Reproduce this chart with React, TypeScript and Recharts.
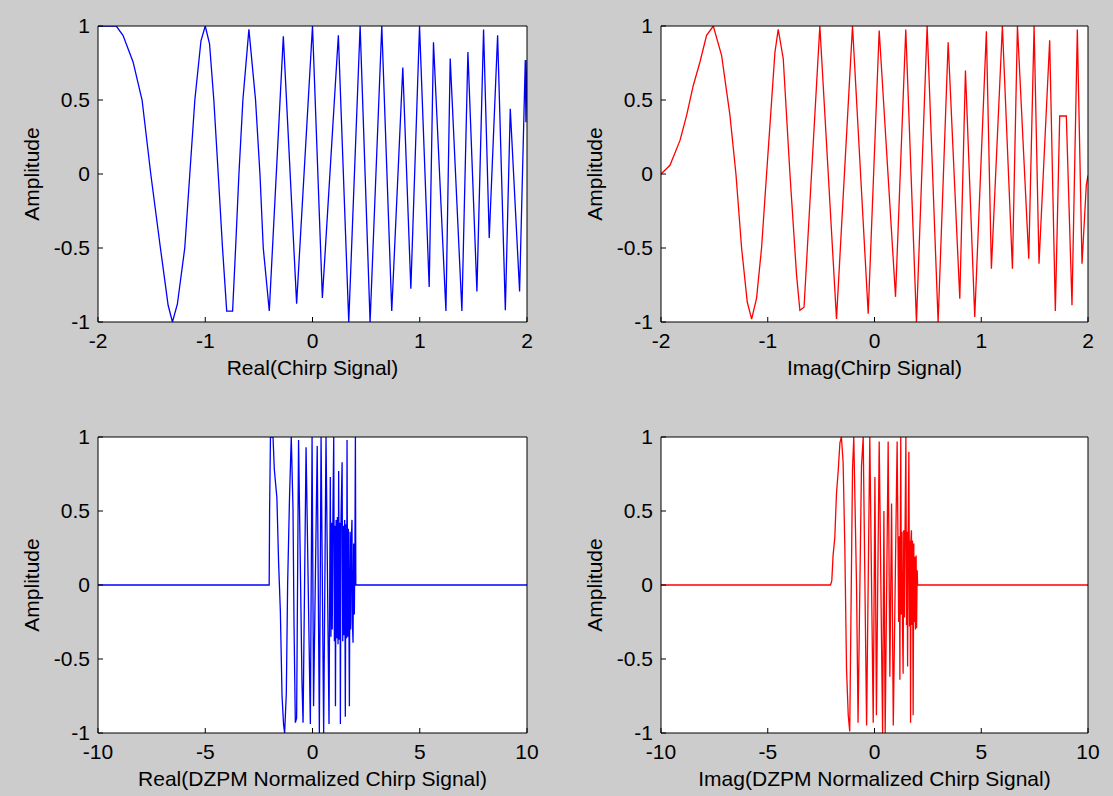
import { LineChart, Line, XAxis, YAxis, CartesianGrid, Label } from 'recharts'

type Pt = [number, number]

// tick labels
const chirpTicks = [-2, -1, 0, 1, 2]
const dzpmTicks = [-10, -5, 0, 5, 10]
const ampTicks = [-1, -0.5, 0, 0.5, 1]

// Real(Chirp Signal)
const realChirp: Pt[] = [
  [-2, 1], [-1.83, 1], [-1.767, 0.937], [-1.673, 0.757], [-1.589, 0.5], [-1.508, 0],
  [-1.418, -0.5], [-1.346, -0.887], [-1.306, -1], [-1.26, -0.88], [-1.191, -0.5],
  [-1.144, 0], [-1.097, 0.5], [-1.04, 0.9], [-1.0, 1], [-0.96, 0.88], [-0.92, 0.5],
  [-0.879, 0], [-0.839, -0.5], [-0.8, -0.926], [-0.745, -0.926], [-0.717, -0.5],
  [-0.686, 0], [-0.649, 0.5], [-0.593, 0.977], [-0.531, 0.5], [-0.49, 0], [-0.459, -0.5],
  [-0.403, -0.926], [-0.272, 0.93], [-0.148, -0.876], [0.0, 1], [0.092, -0.838],
  [0.241, 0.937], [0.338, -1], [0.444, 1], [0.537, -1], [0.646, 1], [0.739, -0.926],
  [0.842, 0.72], [0.917, -0.775], [0.998, 1], [1.088, -0.764], [1.128, 0.89],
  [1.244, -0.926], [1.284, 0.78], [1.393, -0.926], [1.449, 0.824], [1.533, -0.793],
  [1.595, 0.977], [1.648, -0.432], [1.726, 0.937], [1.798, -0.921], [1.844, 0.441],
  [1.931, -0.793], [1.984, 0.77], [1.99, 0.35], [2, 0.77],
]

// Imag(Chirp Signal)
const imagChirp: Pt[] = [
  [-2, 0], [-1.916, 0.059], [-1.822, 0.227], [-1.76, 0.396], [-1.697, 0.6], [-1.635, 0.757],
  [-1.573, 0.937], [-1.51, 1], [-1.432, 0.8], [-1.354, 0.396], [-1.298, 0], [-1.245, -0.5],
  [-1.192, -0.865], [-1.151, -0.98], [-1.105, -0.84], [-1.058, -0.5], [-1.011, 0],
  [-0.973, 0.396], [-0.933, 0.82], [-0.902, 0.977], [-0.855, 0.78], [-0.792, 0],
  [-0.73, -0.685], [-0.699, -0.921], [-0.66, -0.9], [-0.59, 0], [-0.512, 1], [-0.356, -0.98],
  [-0.206, 1], [-0.059, -0.944], [0.044, 0.97], [0.197, -0.83], [0.293, 0.977], [0.393, -1],
  [0.493, 1], [0.596, -1], [0.69, 0.89], [0.799, -0.842], [0.852, 0.7], [0.939, -0.966],
  [1.048, 0.964], [1.095, -0.64], [1.198, 1], [1.292, -0.64], [1.339, 1], [1.445, -0.572],
  [1.495, 1], [1.541, -0.606], [1.641, 0.903], [1.694, -0.926], [1.735, 0.392],
  [1.797, 0.392], [1.85, -0.887], [1.9, 0.977], [1.944, -0.606], [1.984, -0.077], [2, -0.01],
]

// Real(DZPM Normalized Chirp Signal)
const realDzpm: Pt[] = [
  [-10, 0], [-2.02, 0], [-2.0, 0.5], [-1.96, 1], [-1.84, 1], [-1.78, 0.78], [-1.66, 0.59],
  [-1.58, 0.15], [-1.5, -0.17], [-1.42, -0.75], [-1.35, -0.94], [-1.3, -1], [-1.22, -0.73],
  [-1.16, 0], [-1.07, 0.6], [-0.99, 1], [-0.91, 0.52], [-0.86, -0.28], [-0.8, -0.93],
  [-0.74, -0.9], [-0.65, 0.98], [-0.49, -0.66], [-0.44, -0.93], [-0.3, 0.93], [-0.1, -0.94],
  [-0.02, 1], [0.05, -0.82], [0.22, 0.94], [0.32, -1], [0.4, 1], [0.52, -1], [0.63, 1],
  [0.77, -0.94], [0.83, 0.73], [0.86, -0.35], [0.89, 0.42], [0.92, -0.3], [0.95, 0.45],
  [0.99, 1], [1.02, -0.38], [1.05, 0.4], [1.07, -0.82], [1.1, 0.44], [1.13, -0.36],
  [1.16, 0.46], [1.19, -0.4], [1.22, 0.77], [1.25, -0.37], [1.28, 0.42], [1.3, -0.94],
  [1.33, 0.45], [1.38, 0.83], [1.41, -0.38], [1.44, 0.4], [1.47, -0.34], [1.5, 0.44],
  [1.53, -0.89], [1.56, 0.41], [1.59, -0.36], [1.61, 0.98], [1.64, -0.35], [1.67, 0.38],
  [1.7, -0.3], [1.72, -0.82], [1.75, 0.36], [1.78, -0.3], [1.81, 0.3], [1.84, 0.44],
  [1.86, -0.25], [1.89, -0.39], [1.92, 0.28], [1.95, -0.2], [1.98, 0.3], [2.0, 1],
  [2.02, 0], [10, 0],
]

// Imag(DZPM Normalized Chirp Signal)
const imagDzpm: Pt[] = [
  [-10, 0], [-2.06, 0], [-2.0, 0.03], [-1.94, 0.2], [-1.86, 0.32], [-1.78, 0.62],
  [-1.7, 0.77], [-1.62, 0.96], [-1.55, 1], [-1.47, 0.83], [-1.39, 0.26], [-1.31, -0.57],
  [-1.23, -0.88], [-1.16, -0.99], [-1.03, 0.78], [-0.97, 1], [-0.84, -0.02], [-0.77, -0.93],
  [-0.61, 0.8], [-0.53, 1], [-0.37, -0.95], [-0.22, 1], [-0.06, -0.93], [0.02, 0.73],
  [0.09, -0.88], [0.22, 0.97], [0.38, -1], [0.44, 0.5], [0.5, -1], [0.64, 0.97],
  [0.72, -0.62], [0.8, 0.55], [0.88, -0.95], [1.06, 0.97], [1.1, 0.3], [1.13, -0.25],
  [1.16, 0.33], [1.19, -0.64], [1.21, 0.35], [1.23, 1], [1.26, -0.2], [1.29, 0.36],
  [1.31, -0.26], [1.34, -0.6], [1.37, 0.37], [1.4, -0.22], [1.43, 0.35], [1.47, 1],
  [1.5, -0.27], [1.52, 0.36], [1.55, -0.55], [1.58, 0.33], [1.61, 0.9], [1.64, -0.28],
  [1.67, 0.3], [1.69, -0.93], [1.71, 0.32], [1.73, 0.37], [1.76, -0.27], [1.78, 0.3],
  [1.81, -0.88], [1.84, 0.28], [1.86, -0.25], [1.89, 0.19], [1.92, -0.3], [1.95, 0.2],
  [1.97, -0.29], [2.0, 0.1], [2.02, 0], [10, 0],
]

const FONT = '"Liberation Sans", Arial, Helvetica, sans-serif'
const INK = '#000'
const FS = 21

interface PanelProps {
  pts: Pt[]
  color: string
  xTicks: number[]
  xLabel: string
  left: number
  top: number
  width: number
}

function Panel({ pts, color, xTicks, xLabel, left, top, width }: PanelProps) {
  const data = pts.map(([x, y]) => ({ x, y }))
  const xDomain = [xTicks[0], xTicks[xTicks.length - 1]]
  return (
    <div style={{ position: 'absolute', left, top }}>
      <LineChart
        width={width}
        height={398}
        data={data}
        margin={{ top: 26, right: 30, left: 28, bottom: 23 }}
      >
        <CartesianGrid fill="#fff" horizontal={false} vertical={false} />
        <XAxis
          xAxisId="b"
          dataKey="x"
          type="number"
          domain={xDomain}
          ticks={xTicks}
          interval={0}
          allowDataOverflow
          height={53}
          tickSize={-5}
          tickMargin={16}
          stroke={INK}
          tick={{ fill: INK, fontSize: FS }}
        >
          <Label value={xLabel} position="insideBottom" offset={0} fill={INK} fontSize={FS} />
        </XAxis>
        <XAxis
          xAxisId="t"
          orientation="top"
          mirror
          dataKey="x"
          type="number"
          domain={xDomain}
          ticks={xTicks}
          interval={0}
          allowDataOverflow
          tick={false}
          tickSize={5}
          stroke={INK}
        />
        <YAxis
          yAxisId="l"
          type="number"
          domain={[-1, 1]}
          ticks={ampTicks}
          interval={0}
          allowDataOverflow
          width={70}
          tickSize={-5}
          tickMargin={13}
          stroke={INK}
          tick={{ fill: INK, fontSize: FS }}
        >
          <Label
            value="Amplitude"
            angle={-90}
            position="insideLeft"
            offset={4}
            fill={INK}
            fontSize={FS}
            style={{ textAnchor: 'middle' }}
          />
        </YAxis>
        <YAxis
          yAxisId="r"
          orientation="right"
          mirror
          type="number"
          domain={[-1, 1]}
          ticks={ampTicks}
          interval={0}
          allowDataOverflow
          tick={false}
          tickSize={5}
          stroke={INK}
        />
        <Line
          xAxisId="b"
          yAxisId="l"
          dataKey="y"
          type="linear"
          stroke={color}
          strokeWidth={1.3}
          dot={false}
          isAnimationActive={false}
        />
      </LineChart>
    </div>
  )
}

export default function App() {
  return (
    <div
      style={{
        position: 'absolute',
        left: 0,
        top: 0,
        width: 1113,
        height: 796,
        background: '#cccccc',
        fontFamily: FONT,
        overflow: 'hidden',
      }}
    >
      <Panel pts={realChirp} color="#0000ff" xTicks={chirpTicks} xLabel="Real(Chirp Signal)" left={0} top={0} width={557} />
      <Panel pts={imagChirp} color="#ff0000" xTicks={chirpTicks} xLabel="Imag(Chirp Signal)" left={563} top={0} width={555} />
      <Panel pts={realDzpm} color="#0000ff" xTicks={dzpmTicks} xLabel="Real(DZPM Normalized Chirp Signal)" left={0} top={411} width={557} />
      <Panel pts={imagDzpm} color="#ff0000" xTicks={dzpmTicks} xLabel="Imag(DZPM Normalized Chirp Signal)" left={563} top={411} width={555} />
    </div>
  )
}
